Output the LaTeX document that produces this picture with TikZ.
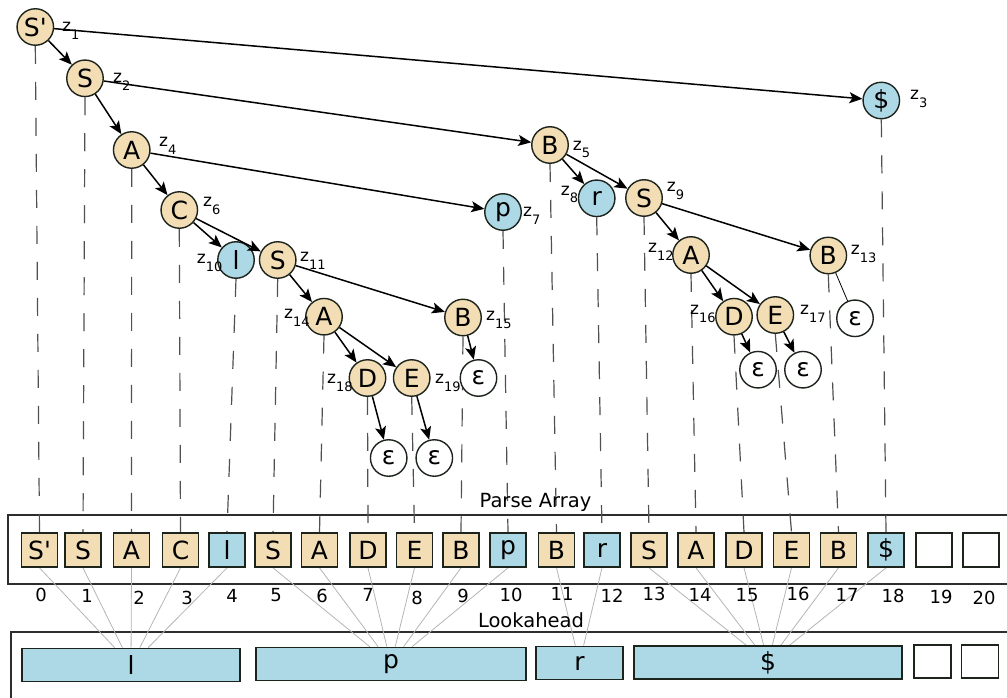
\documentclass[tikz,border=0pt]{standalone}
\usepackage{fontspec}
\setmainfont{DejaVu Sans}[Ligatures=TeXOff]
\usetikzlibrary{arrows.meta}
\definecolor{tanfill}{RGB}{243,221,180}
\definecolor{skyfill}{RGB}{173,216,230}
\definecolor{rim}{RGB}{28,36,28}
\definecolor{dashgray}{RGB}{80,80,80}
\definecolor{linkgray}{RGB}{180,180,180}
\definecolor{framegray}{RGB}{45,45,45}
\newcommand\zlab[1]{z\raisebox{-8pt}{\fontsize{13}{13}\selectfont #1}}
\pgfdeclarelayer{background}
\pgfsetlayers{background,main}
\begin{document}
\begin{tikzpicture}[x=1pt,y=-1pt,
  treenode/.style={circle,draw=rim,line width=1.4pt,minimum size=36.5pt,inner sep=0pt,font=\fontsize{25}{25}\selectfont},
  nonterm/.style={treenode,fill=tanfill},
  term/.style={treenode,fill=skyfill},
  eps/.style={treenode,fill=white},
  zl/.style={anchor=base west,inner sep=0pt,font=\fontsize{17}{17}\selectfont},
  cellbox/.style={draw=rim,line width=1.7pt,minimum width=36pt,minimum height=34pt,inner sep=0pt,font=\fontsize{25}{25}\selectfont},
  ct/.style={cellbox,fill=tanfill},
  cb/.style={cellbox,fill=skyfill},
  cw/.style={cellbox,fill=white},
  lookbox/.style={draw=rim,line width=1.7pt,minimum height=33pt,inner sep=0pt,font=\fontsize{25}{25}\selectfont},
  idx/.style={inner sep=0pt,font=\fontsize{18}{18}\selectfont},
  caption/.style={inner sep=0pt,font=\fontsize{19.5}{19.5}\selectfont},
  arr/.style={-{Stealth[length=13pt,width=11pt,inset=3pt]},line width=1.5pt},
  dl/.style={draw=dashgray,line width=1.2pt,dash pattern=on 18pt off 18pt},
  gl/.style={draw=linkgray,line width=0.8pt},
  frame/.style={draw=framegray,line width=1.5pt}]
\useasboundingbox (0,0) rectangle (1007,698);

% tree
\node[nonterm] (n1) at (35.3,27) {S'};
\node[nonterm] (n2) at (85,78.3) {S};
\node[term] (n3) at (881.3,100.5) {\$};
\node[nonterm] (n4) at (131.7,150) {A};
\node[nonterm] (n5) at (550,145) {B};
\node[nonterm] (n6) at (179.3,210) {C};
\node[term] (n7) at (503,212) {p};
\node[term] (n8) at (596.7,198.3) {r};
\node[nonterm] (n9) at (644,198) {S};
\node[term] (n10) at (236,260) {l};
\node[nonterm] (n11) at (277.7,260) {S};
\node[nonterm] (n12) at (691,255) {A};
\node[nonterm] (n13) at (828.3,255.5) {B};
\node[nonterm] (n14) at (324,316.7) {A};
\node[nonterm] (n15) at (463,317.5) {B};
\node[nonterm] (n16) at (734,316.7) {D};
\node[nonterm] (n17) at (775.3,315) {E};
\node[nonterm] (n18) at (367.5,378) {D};
\node[nonterm] (n19) at (411.7,378) {E};
\node[eps] (e13) at (855,318.3) {ε};
\node[eps] (e15) at (478.5,378) {ε};
\node[eps] (e16) at (758,369.7) {ε};
\node[eps] (e17) at (803,369.7) {ε};
\node[eps] (e18) at (388.7,458) {ε};
\node[eps] (e19) at (434.3,458) {ε};

% node labels
\node[zl] (z1) at (62,32) {\zlab{1}};
\node[zl] (z2) at (113,83) {\zlab{2}};
\node[zl] (z3) at (910,99.3) {\zlab{3}};
\node[zl] (z4) at (159,147) {\zlab{4}};
\node[zl] (z5) at (572.7,150) {\zlab{5}};
\node[zl] (z6) at (203,207) {\zlab{6}};
\node[zl] (z7) at (523,216.7) {\zlab{7}};
\node[zl] (z8) at (560.7,195) {\zlab{8}};
\node[zl] (z9) at (666.7,191.7) {\zlab{9}};
\node[zl] (z10) at (196.7,263) {\zlab{10}};
\node[zl] (z11) at (300,261) {\zlab{11}};
\node[zl] (z12) at (648,252.7) {\zlab{12}};
\node[zl] (z13) at (850.7,254) {\zlab{13}};
\node[zl] (z14) at (284,318) {\zlab{14}};
\node[zl] (z15) at (486,320) {\zlab{15}};
\node[zl] (z16) at (690,314) {\zlab{16}};
\node[zl] (z17) at (800,314) {\zlab{17}};
\node[zl] (z18) at (327,383) {\zlab{18}};
\node[zl] (z19) at (435,383) {\zlab{19}};

% tree edges
\draw[arr] (n1) -- (n2);
\draw[arr] (n1) -- (n3);
\draw[arr] (n2) -- (n4);
\draw[arr] (n2) -- (n5);
\draw[arr] (n4) -- (n6);
\draw[arr] (n4) -- (n7);
\draw[arr] (n5) -- (n8);
\draw[arr] (n5) -- (n9);
\draw[arr] (n6) -- (n10);
\draw[arr] (n6) -- (n11);
\draw[arr] (n9) -- (n12);
\draw[arr] (n9) -- (n13);
\draw[arr] (n11) -- (n14);
\draw[arr] (n11) -- (n15);
\draw[arr] (n12) -- (n16);
\draw[arr] (n12) -- (n17);
\draw[arr] (n14) -- (n18);
\draw[arr] (n14) -- (n19);
\draw[arr] (n15) -- (e15);
\draw[arr] (n16) -- (e16);
\draw[arr] (n17) -- (e17);
\draw[arr] (n18) -- (e18);
\draw[arr] (n19) -- (e19);
\draw[line width=0.8pt] (n13) -- (e13);

% parse array
\node[caption] (parsecap) at (535.5,502) {Parse Array};
\node[ct] (c0) at (39.5,550) {S'};
\node[ct] (c1) at (83,550) {S};
\node[ct] (c2) at (131.5,550) {A};
\node[ct] (c3) at (180.5,550) {C};
\node[cb] (c4) at (227,550) {l};
\node[ct] (c5) at (273,550) {S};
\node[ct] (c6) at (319.5,550) {A};
\node[ct] (c7) at (368,550) {D};
\node[ct] (c8) at (414.5,550) {E};
\node[ct] (c9) at (461,550) {B};
\node[cb] (c10) at (508,550) {p};
\node[ct] (c11) at (556.5,550) {B};
\node[cb] (c12) at (602,550) {r};
\node[ct] (c13) at (649,550) {S};
\node[ct] (c14) at (696,550) {A};
\node[ct] (c15) at (744,550) {D};
\node[ct] (c16) at (791.5,550) {E};
\node[ct] (c17) at (838.5,550) {B};
\node[cb] (c18) at (886,550) {\$};
\node[cw] (c19) at (934,550) {};
\node[cw] (c20) at (981,550) {};

% indices
\node[idx] (i0) at (41,595) {0};
\node[idx] (i1) at (87,596) {1};
\node[idx] (i2) at (139,598) {2};
\node[idx] (i3) at (187,598) {3};
\node[idx] (i4) at (232,596) {4};
\node[idx] (i5) at (276,595) {5};
\node[idx] (i6) at (322,596) {6};
\node[idx] (i7) at (368,595) {7};
\node[idx] (i8) at (417,598) {8};
\node[idx] (i9) at (463,596) {9};
\node[idx] (i10) at (511,595) {10};
\node[idx] (i11) at (562,594) {11};
\node[idx] (i12) at (612,596) {12};
\node[idx] (i13) at (654,594) {13};
\node[idx] (i14) at (700,595) {14};
\node[idx] (i15) at (747,595) {15};
\node[idx] (i16) at (798,594) {16};
\node[idx] (i17) at (847,595) {17};
\node[idx] (i18) at (893,596) {18};
\node[idx] (i19) at (941,597) {19};
\node[idx] (i20) at (984,598) {20};

% lookahead
\node[caption] (lookcap) at (531,620) {Lookahead};
\node[lookbox,fill=skyfill,minimum width=218pt] (L1) at (131,665) {l};
\node[lookbox,fill=skyfill,minimum width=270pt] (L2) at (391,664) {p};
\node[lookbox,fill=skyfill,minimum width=87pt] (L3) at (579.5,663) {r};
\node[lookbox,fill=skyfill,minimum width=268pt] (L4) at (768,662.5) {\$};
\node[lookbox,fill=white,minimum width=37pt] (L5) at (932.5,661.5) {};
\node[lookbox,fill=white,minimum width=37pt] (L6) at (980,661.5) {};

\begin{pgfonlayer}{background}
  \draw[frame] (8,515) rectangle (1014,584);
  \draw[frame] (11,632) rectangle (1014,714);
  % tree nodes to their array slots
  \draw[dl] (n1.south) -- (c0.north);
  \draw[dl] (n2.south) -- (c1.north);
  \draw[dl] (n4.south) -- (c2.north);
  \draw[dl] (n6.south) -- (c3.north);
  \draw[dl] (n10.south) -- (c4.north);
  \draw[dl] (n11.south) -- (c5.north);
  \draw[dl] (n14.south) -- (c6.north);
  \draw[dl] (n18.south) -- (c7.north);
  \draw[dl] (n19.south) -- (c8.north);
  \draw[dl] (n15.south) -- (c9.north);
  \draw[dl] (n7.south) -- (c10.north);
  \draw[dl] (n5.south) -- (c11.north);
  \draw[dl] (n8.south) -- (c12.north);
  \draw[dl] (n9.south) -- (c13.north);
  \draw[dl] (n12.south) -- (c14.north);
  \draw[dl] (n16.south) -- (c15.north);
  \draw[dl] (n17.south) -- (c16.north);
  \draw[dl] (n13.south) -- (c17.north);
  \draw[dl] (n3.south) -- (c18.north);
  % array slots to their lookahead
  \foreach \k in {0,...,4} \draw[gl] (c\k.south) -- (L1);
  \foreach \k in {5,...,10} \draw[gl] (c\k.south) -- (L2);
  \foreach \k in {11,12} \draw[gl] (c\k.south) -- (L3);
  \foreach \k in {13,...,18} \draw[gl] (c\k.south) -- (L4);
\end{pgfonlayer}
\end{tikzpicture}
\end{document}
